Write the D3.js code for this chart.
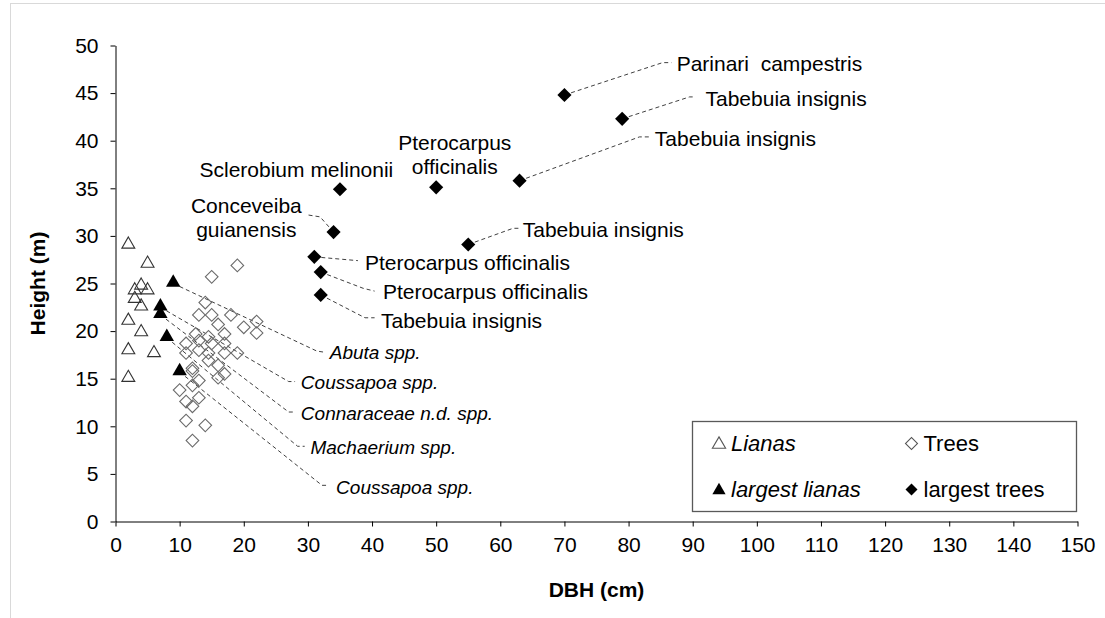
<!DOCTYPE html>
<html>
<head>
<meta charset="utf-8">
<script src="https://cdn.jsdelivr.net/npm/d3@7"></script>
<style>
  body { margin: 0; background: #fff; }
  text { font-family: "Liberation Sans", Arial, sans-serif; fill: #000; }
</style>
</head>
<body>
<div id="chart"></div>
<script>
// Data: [DBH (cm), height (m)]
var lianas = [[2, 29], [5, 27], [4, 24.7], [3, 24.2], [5, 24.2], [3, 23.3], [4, 22.5],
  [2, 21], [4, 19.8], [2, 17.9], [6, 17.6], [2, 15]];

var largestLianas = [[9, 25], [7, 22.5], [7, 21.7], [8, 19.3], [10, 15.7]];
var largestLianaNames = ["Abuta spp.", "Coussapoa spp.", "Connaraceae n.d. spp.",
  "Machaerium spp.", "Coussapoa spp."];

var trees = [[15, 25.7], [19, 26.9], [14, 23], [13, 21.7], [15, 21.7], [18, 21.7], [16, 20.7],
  [22, 21], [20, 20.4], [22, 19.8], [12.5, 19.7], [14.5, 19.4], [17, 19.7], [11, 18.7],
  [13, 19], [15, 18.7], [17, 18.7], [11, 17.7], [13, 18], [14.5, 17.7], [17, 17.7],
  [19, 17.7], [14.5, 16.9], [12, 16.1], [12, 15.8], [16, 16.4], [13, 14.8], [17, 15.5],
  [16, 15.1], [10, 13.8], [12, 14.3], [11, 12.6], [13, 13], [12, 12.1], [11, 10.6],
  [14, 10.1], [12, 8.5]];

var largestTrees = [[70, 44.8], [79, 42.3], [63, 35.8], [55, 29.1], [35, 34.9], [50, 35.1],
  [34, 30.4], [31, 27.8], [32, 26.2], [32, 23.8]];
var largestTreeNames = ["Parinari  campestris", "Tabebuia insignis", "Tabebuia insignis",
  "Tabebuia insignis", "Sclerobium melinonii", "Pterocarpus|officinalis",
  "Conceveiba|guianensis", "Pterocarpus officinalis", "Pterocarpus officinalis",
  "Tabebuia insignis"];

var xTicks = d3.range(0, 151, 10);
var yTicks = d3.range(0, 51, 5);

// Label placement (data units): text anchor and leader-line bends
var treeLabelLayout = [
  {at: [87.5, 48.1], anchor: "start", bends: [[85.3, 48.2], [86.7, 48.2]]},
  {at: [92.0, 44.4], anchor: "start", bends: [[89.5, 44.6], [90.2, 44.6]]},
  {at: [84.1, 40.2], anchor: "start", bends: [[81.7, 40.4], [83.3, 40.4]]},
  {at: [63.5, 30.7], anchor: "start", bends: [[62.0, 30.8], [63.0, 30.8]]},
  {at: [13.1, 37.0], anchor: "start", bends: []},
  {at: [52.9, 39.8], anchor: "middle", bends: []},
  {at: [20.4, 33.2], anchor: "middle", bends: [[31.9, 32.0], [30.0, 32.2]]},
  {at: [38.9, 27.2], anchor: "start", bends: [[37.8, 27.4]]},
  {at: [41.7, 24.1], anchor: "start", bends: [[38.6, 24.5], [40.4, 24.2]]},
  {at: [41.4, 21.1], anchor: "start", bends: [[38.9, 21.4], [40.4, 21.4]]}
];
var lianaLabelLayout = [
  {at: [33.4, 17.8], bends: [[31.4, 17.9], [32.4, 17.8]]},
  {at: [28.9, 14.6], bends: [[27.0, 14.7], [28.0, 14.7]]},
  {at: [28.9, 11.4], bends: [[27.0, 11.5], [28.0, 11.5]]},
  {at: [30.4, 7.8], bends: [[28.4, 7.9], [29.5, 7.9]]},
  {at: [34.4, 3.6], bends: [[32.2, 3.8], [33.3, 3.8]]}
];

var width = 1105, height = 618;
var fontSize = 21;

var svg = d3.select("#chart").append("svg")
    .attr("width", width)
    .attr("height", height);

// chart area frame (only left/top edges are visible)
svg.append("rect")
    .attr("x", 10.5).attr("y", 3.5)
    .attr("width", 1200).attr("height", 700)
    .attr("fill", "none")
    .attr("stroke", "#d9d9d9");

var x = d3.scaleLinear().domain([0, 150]).range([115.5, 1077.5]);
var y = d3.scaleLinear().domain([0, 50]).range([521.5, 45.5]);

// Axes
var xAxis = svg.append("g")
    .attr("transform", "translate(0," + y(0) + ")")
    .call(d3.axisBottom(x).tickValues(xTicks).tickSize(5).tickSizeOuter(0).tickPadding(11));
var yAxis = svg.append("g")
    .attr("transform", "translate(" + x(0) + ",0)")
    .call(d3.axisLeft(y).tickValues(yTicks).tickSize(5).tickSizeOuter(0).tickPadding(12));

[xAxis, yAxis].forEach(function(g) {
  g.selectAll("text")
      .style("font-family", "'Liberation Sans', Arial, sans-serif")
      .style("font-size", fontSize + "px")
      .attr("fill", "#000");
  g.selectAll("line, path").attr("stroke", "#000");
});

svg.append("text")
    .attr("x", (x(0) + x(150)) / 2)
    .attr("y", 597)
    .attr("text-anchor", "middle")
    .style("font-size", fontSize + "px")
    .style("font-weight", "bold")
    .text("DBH (cm)");

svg.append("text")
    .attr("transform", "translate(38," + ((y(0) + y(50)) / 2) + ") rotate(-90)")
    .attr("text-anchor", "middle")
    .attr("dy", "0.35em")
    .style("font-size", fontSize + "px")
    .style("font-weight", "bold")
    .text("Height (m)");

// Leader lines
var line = d3.line();
var leaders = svg.append("g")
    .attr("fill", "none")
    .attr("stroke", "#404040")
    .attr("stroke-width", 1)
    .attr("stroke-dasharray", "4,3");

function drawLeader(p, layout) {
  if (!layout.bends.length) return;
  var pts = [[x(p[0]), y(p[1])]].concat(layout.bends.map(function(b) { return [x(b[0]), y(b[1])]; }));
  leaders.append("path").attr("d", line(pts));
}
largestTrees.forEach(function(p, i) { drawLeader(p, treeLabelLayout[i]); });
largestLianas.forEach(function(p, i) { drawLeader(p, lianaLabelLayout[i]); });

// Markers
var triangle = d3.symbol().type(d3.symbolTriangle).size(72);
var square = d3.symbol().type(d3.symbolSquare).size(80);
var bigSquare = d3.symbol().type(d3.symbolSquare).size(100);

svg.append("g").selectAll("path")
    .data(trees)
    .join("path")
    .attr("d", square)
    .attr("transform", function(d) { return "translate(" + x(d[0]) + "," + y(d[1]) + ") rotate(45)"; })
    .attr("fill", "none")
    .attr("stroke", "#6b6b6b")
    .attr("stroke-width", 1.1);

svg.append("g").selectAll("path")
    .data(lianas)
    .join("path")
    .attr("d", triangle)
    .attr("transform", function(d) { return "translate(" + x(d[0]) + "," + (y(d[1]) - 1) + ")"; })
    .attr("fill", "none")
    .attr("stroke", "#333")
    .attr("stroke-width", 1.1);

svg.append("g").selectAll("path")
    .data(largestLianas)
    .join("path")
    .attr("d", d3.symbol().type(d3.symbolTriangle).size(90))
    .attr("transform", function(d) { return "translate(" + x(d[0]) + "," + (y(d[1]) - 1) + ")"; })
    .attr("fill", "#000");

svg.append("g").selectAll("path")
    .data(largestTrees)
    .join("path")
    .attr("d", bigSquare)
    .attr("transform", function(d) { return "translate(" + x(d[0]) + "," + y(d[1]) + ") rotate(45)"; })
    .attr("fill", "#000");

// Labels
function drawLabel(name, layout, italic) {
  var lines = name.split("|");
  var t = svg.append("text")
      .attr("x", x(layout.at[0]))
      .attr("y", y(layout.at[1]))
      .attr("text-anchor", layout.anchor || "start")
      .style("font-size", (italic ? 19 : fontSize) + "px")
      .style("font-style", italic ? "italic" : "normal");
  lines.forEach(function(s, k) {
    t.append("tspan")
        .attr("x", x(layout.at[0]))
        .attr("dy", k === 0 ? "0.35em" : "24px")
        .style("white-space", "pre")
        .text(s);
  });
}
largestTreeNames.forEach(function(n, i) { drawLabel(n, treeLabelLayout[i], false); });
largestLianaNames.forEach(function(n, i) { drawLabel(n, lianaLabelLayout[i], true); });

// Legend
var legendItems = [
  {label: "Lianas", italic: true, shape: "tri", filled: false},
  {label: "Trees", italic: false, shape: "dia", filled: false},
  {label: "largest lianas", italic: true, shape: "tri", filled: true},
  {label: "largest trees", italic: false, shape: "dia", filled: true}
];

var legend = svg.append("g");
legend.append("rect")
    .attr("x", 692.5).attr("y", 421.5)
    .attr("width", 384).attr("height", 90)
    .attr("fill", "#fff")
    .attr("stroke", "#595959")
    .attr("stroke-width", 1.3);

var legendCols = [719, 911.5], legendRows = [443.5, 489.5];
legendItems.forEach(function(d, i) {
  var cx = legendCols[i % 2], cy = legendRows[Math.floor(i / 2)];
  var sym = d.shape === "tri" ? d3.symbol().type(d3.symbolTriangle).size(76)
                              : d3.symbol().type(d3.symbolSquare).size(72);
  legend.append("path")
      .attr("d", sym)
      .attr("transform", "translate(" + cx + "," + (d.shape === "tri" ? cy + 1 : cy) + ")" + (d.shape === "dia" ? " rotate(45)" : ""))
      .attr("fill", d.filled ? "#000" : "none")
      .attr("stroke", d.filled ? "none" : "#555")
      .attr("stroke-width", 1.1);
  legend.append("text")
      .attr("x", cx + 12)
      .attr("y", cy)
      .attr("dy", "0.35em")
      .style("font-size", "22px")
      .style("font-style", d.italic ? "italic" : "normal")
      .text(d.label);
});
</script>
</body>
</html>
